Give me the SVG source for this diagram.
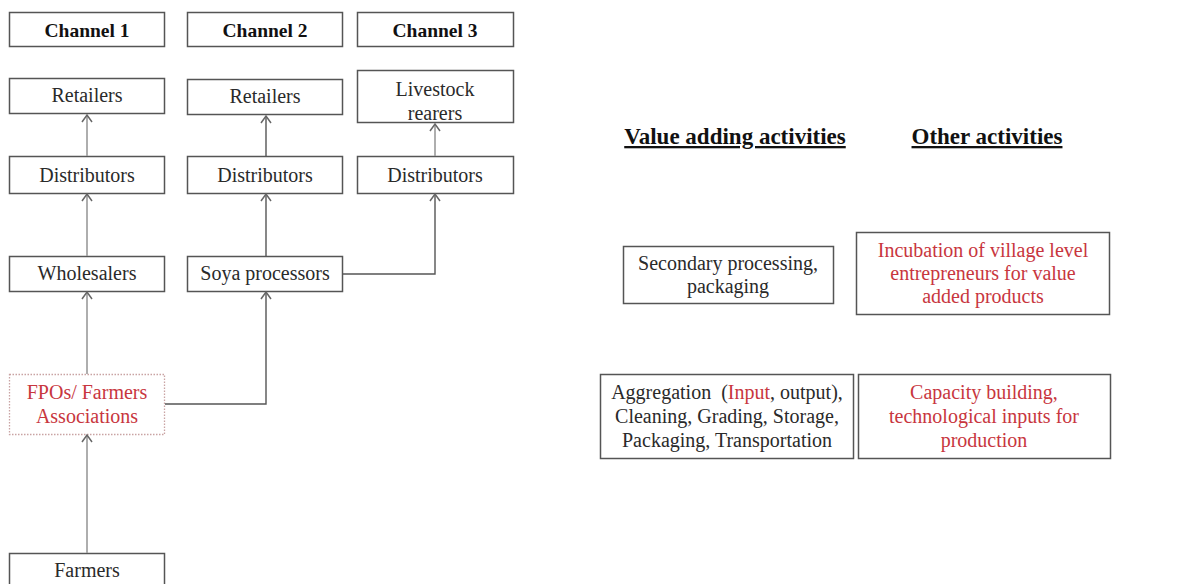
<svg xmlns="http://www.w3.org/2000/svg" width="1179" height="584" viewBox="0 0 1179 584">
<style>
.box{fill:#fff;stroke:#555;stroke-width:1.5}
.t{font-family:"Liberation Serif","Times New Roman",serif;font-size:20px;fill:#2a2a2a;text-anchor:middle}
.b{font-weight:bold;fill:#111;font-size:19.5px}
.h{font-family:"Liberation Serif","Times New Roman",serif;font-size:23px;font-weight:bold;fill:#111;text-anchor:middle;text-decoration:underline}
.red{fill:#c8363e}
.c1{fill:none;stroke:#9a9a9a;stroke-width:1.6}
.c2{fill:none;stroke:#555;stroke-width:1.4}
</style>
<defs>
<marker id="ah" markerUnits="userSpaceOnUse" markerWidth="14" markerHeight="14" refX="8" refY="6" orient="auto">
<path d="M1,1 L8,6 L1,11" fill="none" stroke="#666" stroke-width="1.5"/>
</marker>
</defs>
<rect width="1179" height="584" fill="#fff"/>
<g id="channel1"><rect class="box" x="9.5" y="12.5" width="155" height="34"/><text class="t b" x="87" y="37">Channel 1</text></g>
<g id="channel2"><rect class="box" x="187.5" y="12.5" width="155" height="34"/><text class="t b" x="265" y="37">Channel 2</text></g>
<g id="channel3"><rect class="box" x="357.5" y="12.5" width="156" height="34"/><text class="t b" x="435" y="37">Channel 3</text></g>
<g id="retailers1"><rect class="box" x="9.5" y="78.5" width="155" height="35"/><text class="t" x="87" y="102">Retailers</text></g>
<g id="retailers2"><rect class="box" x="187.5" y="79.5" width="155" height="35"/><text class="t" x="265" y="103">Retailers</text></g>
<g id="livestock"><rect class="box" x="357.5" y="70.5" width="156" height="52"/><text class="t" x="435" y="96">Livestock</text><text class="t" x="435" y="120">rearers</text></g>
<g id="distributors1"><rect class="box" x="9.5" y="156.5" width="155" height="37"/><text class="t" x="87" y="182">Distributors</text></g>
<g id="distributors2"><rect class="box" x="187.5" y="156.5" width="155" height="37"/><text class="t" x="265" y="182">Distributors</text></g>
<g id="distributors3"><rect class="box" x="357.5" y="156.5" width="156" height="37"/><text class="t" x="435" y="182">Distributors</text></g>
<g id="wholesalers"><rect class="box" x="9.5" y="256.5" width="155" height="35"/><text class="t" x="87" y="280">Wholesalers</text></g>
<g id="soya"><rect class="box" x="187.5" y="256.5" width="155" height="35"/><text class="t" x="265" y="280">Soya processors</text></g>
<g id="fpos"><rect x="9.5" y="374.5" width="155" height="60" fill="#fff" stroke="#c9a3a3" stroke-width="1.3" stroke-dasharray="1.5,1.5"/><text class="t red" x="87" y="399">FPOs/ Farmers</text><text class="t red" x="87" y="423">Associations</text></g>
<g id="farmers"><rect class="box" x="9.5" y="553.5" width="155" height="40"/><text class="t" x="87" y="577">Farmers</text></g>
<g id="connectors">
<line class="c1" x1="87" y1="156" x2="87" y2="115" marker-end="url(#ah)"/>
<line class="c1" x1="87" y1="256" x2="87" y2="194" marker-end="url(#ah)"/>
<line class="c1" x1="87" y1="374" x2="87" y2="292" marker-end="url(#ah)"/>
<line class="c1" x1="87" y1="553" x2="87" y2="435" marker-end="url(#ah)"/>
<line class="c2" x1="266" y1="156" x2="266" y2="116" marker-end="url(#ah)"/>
<line class="c2" x1="266" y1="256" x2="266" y2="194" marker-end="url(#ah)"/>
<polyline class="c2" points="165,404 266,404 266,292" marker-end="url(#ah)"/>
<polyline class="c2" points="343,274 435,274 435,194" marker-end="url(#ah)"/>
<line class="c1" x1="435" y1="156" x2="435" y2="124" marker-end="url(#ah)"/>
</g>
<g id="heading-value"><text class="h" x="735" y="144">Value adding activities</text></g>
<g id="heading-other"><text class="h" x="987" y="144">Other activities</text></g>
<g id="secondary"><rect class="box" x="623.5" y="246.5" width="210" height="57"/><text class="t" x="728" y="270">Secondary processing,</text><text class="t" x="728" y="293">packaging</text></g>
<g id="incubation"><rect class="box" x="856.5" y="232.5" width="253" height="82"/><text class="t red" x="983" y="257">Incubation of village level</text><text class="t red" x="983" y="280">entrepreneurs for value</text><text class="t red" x="983" y="303">added products</text></g>
<g id="aggregation"><rect class="box" x="600.5" y="374.5" width="253" height="84"/><text class="t" x="727" y="399">Aggregation &#160;(<tspan class="red">Input</tspan>, output),</text><text class="t" x="727" y="423">Cleaning, Grading, Storage,</text><text class="t" x="727" y="447">Packaging, Transportation</text></g>
<g id="capacity"><rect class="box" x="858.5" y="374.5" width="252" height="84"/><text class="t red" x="984" y="399">Capacity building,</text><text class="t red" x="984" y="423">technological inputs for</text><text class="t red" x="984" y="447">production</text></g>
</svg>
